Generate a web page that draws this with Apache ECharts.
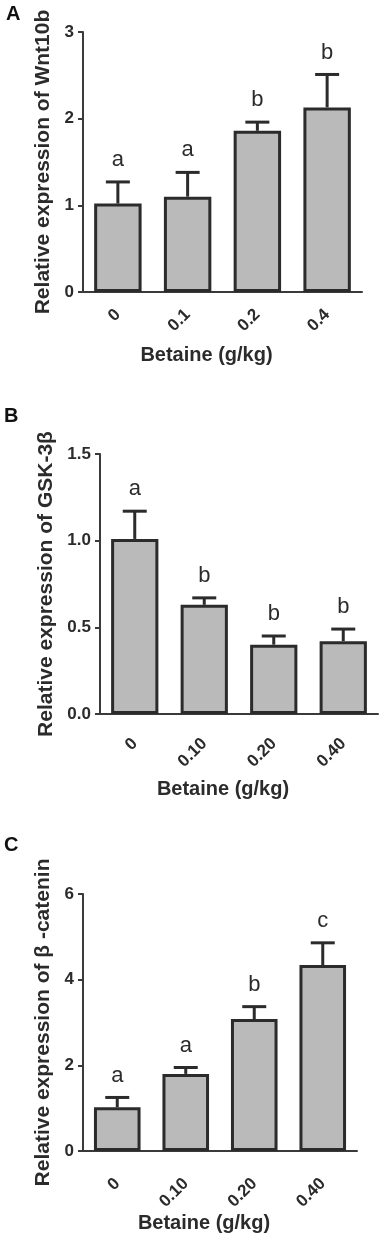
<!DOCTYPE html>
<html>
<head>
<meta charset="utf-8">
<script src="https://cdn.jsdelivr.net/npm/echarts@6/dist/echarts.min.js"></script>
<style>
  html, body { margin: 0; padding: 0; background: #fff; }
  #chart { width: 381px; height: 1243px; }
</style>
</head>
<body>
<div id="chart"></div>
<script>
// panel A - Wnt10b
const catsA = ['0', '0.1', '0.2', '0.4']
const meanA = [1.02, 1.10, 1.86, 2.13]
const errA = [1.27, 1.38, 1.96, 2.51]
const letA = ['a', 'a', 'b', 'b']
// panel B - GSK-3β
const catsB = ['0', '0.10', '0.20', '0.40']
const meanB = [1.01, 0.63, 0.40, 0.42]
const errB = [1.17, 0.67, 0.45, 0.49]
const letB = ['a', 'b', 'b', 'b']
// panel C - β-catenin
const catsC = ['0', '0.10', '0.20', '0.40']
const meanC = [1.02, 1.80, 3.08, 4.34]
const errC = [1.25, 1.95, 3.37, 4.86]
const letC = ['a', 'a', 'b', 'c']

const FONT = 'Liberation Sans, Arial, sans-serif'
const INK = '#2b2b2b'

let chart = echarts.init(document.getElementById('chart'))

function xAx(idx, cats, gap, labelMargin) {
  return {
    type: 'category', gridIndex: idx, data: cats,
    name: 'Betaine (g/kg)', nameLocation: 'middle', nameGap: gap,
    // title sits a bit left of the axis centre in the original
    nameTextStyle: { fontFamily: FONT, fontSize: 20, fontWeight: 'bold', color: INK, padding: [0, 32, 0, 0] },
    axisLine: { lineStyle: { color: '#3a3a3a', width: 2 } },
    axisTick: { alignWithLabel: true, length: 5, lineStyle: { color: '#3a3a3a', width: 2 } },
    axisLabel: { rotate: 45, margin: labelMargin, fontFamily: FONT, fontSize: 17, fontWeight: 'bold', color: INK }
  }
}

function yAx(idx, max, step, name, gap, digits) {
  return {
    type: 'value', gridIndex: idx, min: 0, max: max, interval: step,
    name: name, nameLocation: 'middle', nameGap: gap,
    nameTextStyle: { fontFamily: FONT, fontSize: 21, fontWeight: 'bold', color: INK },
    axisLine: { show: true, lineStyle: { color: '#3a3a3a', width: 2 } },
    axisTick: { show: true, length: 5, lineStyle: { color: '#3a3a3a', width: 2 } },
    splitLine: { show: false },
    axisLabel: {
      margin: 9, fontFamily: FONT, fontSize: 17, fontWeight: 'bold', color: INK,
      formatter: v => v.toFixed(digits)
    }
  }
}

function bars(idx, vals) {
  return {
    type: 'bar', xAxisIndex: idx, yAxisIndex: idx, data: vals, barWidth: '68%',
    itemStyle: { color: '#bababa', borderColor: INK, borderWidth: 3 },
    silent: true
  }
}

// error bar (upper only) + significance letter
function errs(idx, vals, tops, letters) {
  return {
    type: 'custom', xAxisIndex: idx, yAxisIndex: idx, z: 1,
    data: vals.map((v, i) => [i, v, tops[i]]),
    renderItem: (params, api) => {
      const base = api.coord([api.value(0), api.value(1)])
      const top = api.coord([api.value(0), api.value(2)])
      const half = 12
      return {
        type: 'group',
        children: [
          { type: 'line', shape: { x1: base[0], y1: base[1], x2: top[0], y2: top[1] },
            style: { stroke: INK, lineWidth: 3 } },
          { type: 'line', shape: { x1: top[0] - half, y1: top[1], x2: top[0] + half, y2: top[1] },
            style: { stroke: INK, lineWidth: 3 } },
          { type: 'text', x: top[0], y: top[1] - 22,
            style: { text: letters[params.dataIndex], fontFamily: FONT, fontSize: 22,
              fill: INK, align: 'center', verticalAlign: 'middle' } }
        ]
      }
    }
  }
}

let option = {
  animation: false,
  graphic: [
    { type: 'text', left: 6, top: 4, style: { text: 'A', fontFamily: FONT, fontSize: 20, fontWeight: 'bold', fill: '#111' } },
    { type: 'text', left: 4, top: 406, style: { text: 'B', fontFamily: FONT, fontSize: 20, fontWeight: 'bold', fill: '#111' } },
    { type: 'text', left: 4, top: 835, style: { text: 'C', fontFamily: FONT, fontSize: 20, fontWeight: 'bold', fill: '#111' } }
  ],
  grid: [
    { left: 83, top: 32, width: 279, height: 260 },
    { left: 100, top: 454, width: 278, height: 260 },
    { left: 83, top: 894, width: 274, height: 257 }
  ],
  xAxis: [xAx(0, catsA, 53, 20), xAx(1, catsB, 65, 27), xAx(2, catsC, 61, 30)],
  yAxis: [
    yAx(0, 3, 1, 'Relative expression of Wnt10b', 26, 0),
    yAx(1, 1.5, 0.5, 'Relative expression of GSK-3β', 43, 1),
    yAx(2, 6, 2, 'Relative expression of β -catenin', 26, 0)
  ],
  series: [
    errs(0, meanA, errA, letA), bars(0, meanA),
    errs(1, meanB, errB, letB), bars(1, meanB),
    errs(2, meanC, errC, letC), bars(2, meanC)
  ]
}
chart.setOption(option)
</script>
</body>
</html>
